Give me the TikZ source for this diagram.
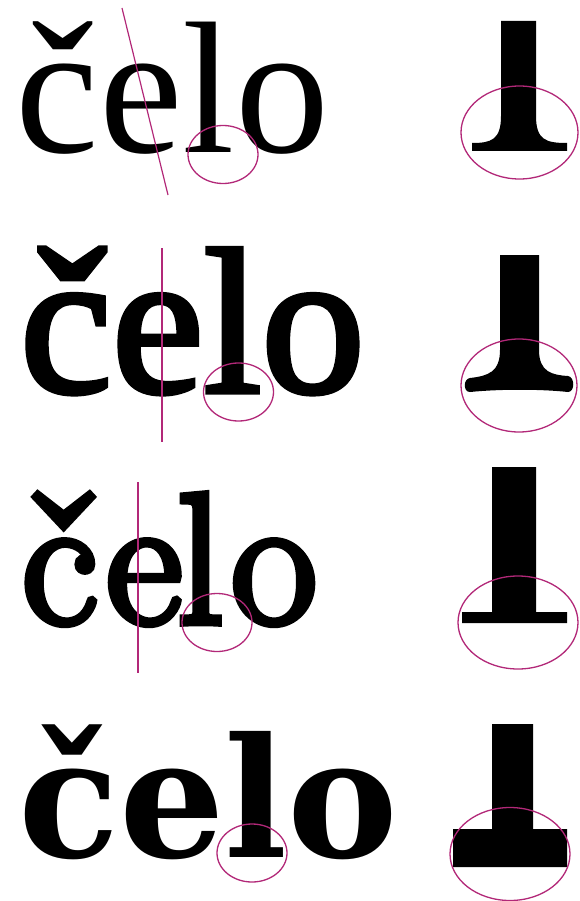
\documentclass[tikz,border=0pt]{standalone}
\usepackage{fontspec}
\usepackage{xcolor}
\usepackage{tikz}
\usetikzlibrary{positioning}

\newfontfamily\oldfont{Liberation Serif}
\newfontfamily\transfont[FakeBold=2.5]{Liberation Serif}
\newfontfamily\didonefont[FakeBold=4]{Latin Modern Roman}
\newfontfamily\slabfont{DejaVu Serif}
\definecolor{axiscol}{RGB}{178,40,120}

\begin{document}
\begin{tikzpicture}[x=1pt, y=-1pt,
    word/.style={anchor=base west, inner sep=0pt, outer sep=0pt},
    axisline/.style={axiscol, line width=1.2pt},
    loupe/.style={axiscol, line width=1.3pt}]
    \useasboundingbox (0,0) rectangle (580,901);

    % the four words
    \node[word, font=\oldfont\fontsize{188}{200}\selectfont] (w1) at (16,153) {čelo};
    \node[word, font=\transfont\fontsize{207}{210}\selectfont] (w2) at (20,392) {čelo};
    \node[word, font=\didonefont\fontsize{186}{190}\selectfont] (w3) at (22,623) {č\kern9pt e\kern-5pt l\kern8pt o};
    \node[word, font=\slabfont\bfseries\fontsize{166}{175}\selectfont] (w4) at (18,857) {čelo};

    % stress axis of the e
    \coordinate (a1) at (122,8);   \coordinate (b1) at (168,195);
    \coordinate (a2) at (162,248); \coordinate (b2) at (162,442);
    \coordinate (a3) at (138,482); \coordinate (b3) at (138,673);
    \draw[axisline] (a1) -- (b1);
    \draw[axisline] (a2) -- (b2);
    \draw[axisline] (a3) -- (b3);

    % small loupes on the foot of the l
    \foreach \cx/\cy in {223/154.5, 238.5/392, 217/622.5, 252/853} {
        \draw[loupe] (\cx,\cy) ellipse [x radius=35pt, y radius=29pt];
    }

    % enlarged serifs
    \fill (501,21) -- (536,21) -- (536,116) .. controls (536,140) and (546,143) .. (567,143)
        -- (567,151) -- (472,151) -- (472,143) .. controls (491,143) and (501,140) .. (501,116) -- cycle;
    \fill (500,255) -- (539,255) -- (539,350) .. controls (539,372) and (552,375) .. (568,376)
        .. controls (575,377) and (575,392) .. (568,392) .. controls (540,389) and (500,389) .. (470,392)
        .. controls (463,392) and (463,379) .. (470,378) .. controls (488,376) and (500,372) .. (500,350) -- cycle;
    \fill (492,467) -- (536,467) -- (536,612) -- (567,612) -- (567,623) -- (462,623) -- (462,612) -- (492,612) -- cycle;
    \fill (492,724) -- (533,724) -- (533,829) -- (567,829) -- (567,867) -- (453,867) -- (453,829) -- (492,829) -- cycle;

    \foreach \cx/\cy/\rx in {519.5/132.5/58.5, 519/385.5/58, 518/622.5/60, 510/854/60} {
        \draw[loupe] (\cx,\cy) ellipse [x radius=\rx pt, y radius=46.5pt];
    }
\end{tikzpicture}
\end{document}
